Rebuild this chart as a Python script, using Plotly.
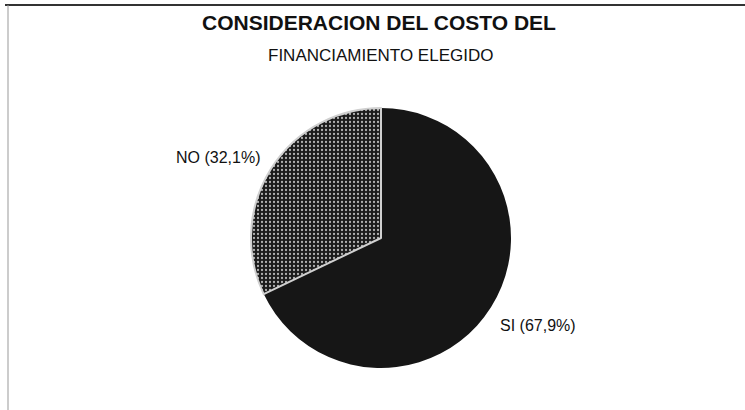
import plotly.graph_objects as go

labels = ["SI", "NO"]
values = [67.9, 32.1]
label_text = ["SI (67,9%)", "NO (32,1%)"]
title_line1 = "CONSIDERACION DEL COSTO DEL"
title_line2 = "FINANCIAMIENTO ELEGIDO"

W, H = 745, 410
cx, cy, r = 381, 238, 130

fig = go.Figure()
fig.add_trace(go.Pie(
    labels=labels, values=values, sort=False, direction="clockwise", rotation=0,
    text=label_text, textinfo="none", hoverinfo="label+percent",
    marker=dict(colors=["#161616", "#2a2a2a"],
                pattern=dict(shape=["", "."], fgcolor="#b0b0b0", bgcolor=["#161616", "#1a1a1a"],
                             size=4, solidity=0.25),
                line=dict(color=["#161616", "#d0d0d0"], width=[0, 2])),
    domain=dict(x=[(cx - r) / W, (cx + r) / W], y=[(H - cy - r) / H, (H - cy + r) / H]),
    showlegend=False,
))

def ann(text, x, y, size, bold=False, family="Liberation Sans, Arial"):
    return dict(text=("<b>" + text + "</b>") if bold else text, x=x / W, y=1 - y / H,
                xref="paper", yref="paper", xanchor="center", yanchor="middle",
                showarrow=False, font=dict(family=family, size=size, color="#111"))

annotations = [
    ann(title_line1, 379, 22, 21, bold=True),
    ann(title_line2, 380, 55, 17, family="Liberation Sans Narrow, Arial Narrow, Liberation Sans, Arial"),
    ann(label_text[1], 218, 157, 16),
    ann(label_text[0], 538, 325, 16),
]

shapes = [
    dict(type="line", xref="paper", yref="paper", x0=5 / W, x1=1, y0=1 - 5 / H, y1=1 - 5 / H,
         line=dict(color="#333", width=2)),
    dict(type="line", xref="paper", yref="paper", x0=8 / W, x1=8 / W, y0=0, y1=1 - 5 / H,
         line=dict(color="#999", width=1)),
]

fig.update_layout(width=W, height=H, margin=dict(l=0, r=0, t=0, b=0),
                  paper_bgcolor="white", plot_bgcolor="white",
                  annotations=annotations, shapes=shapes)
fig.write_html("out.html")
